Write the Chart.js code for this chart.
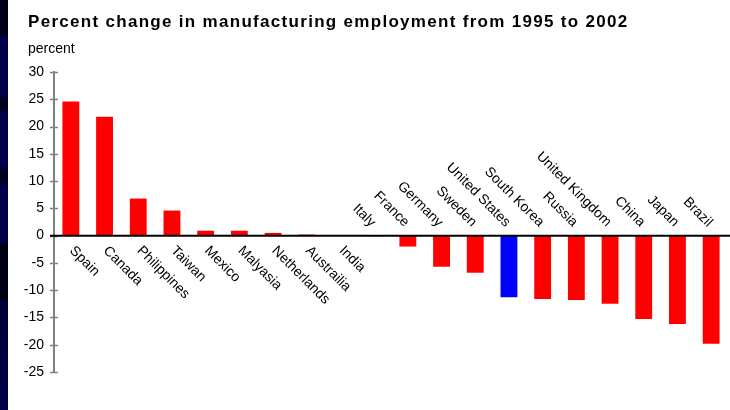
<!DOCTYPE html>
<html>
<head>
<meta charset="utf-8">
<script src="https://cdn.jsdelivr.net/npm/chart.js@4"></script>
<style>
  html, body { margin: 0; padding: 0; background: #fff; }
  #wrap { position: relative; width: 730px; height: 410px; overflow: hidden; }
  #strip {
    position: absolute; left: 0; top: 0; width: 8px; height: 410px;
    background: linear-gradient(to bottom,
      #000018 0px, #000018 35px, #000048 36px, #000048 96px, #000020 97px, #000020 110px,
      #000048 111px, #000048 168px, #000020 169px, #000020 183px, #000048 184px, #000048 243px,
      #000014 244px, #000014 300px, #00003a 301px, #000048 410px);
  }
  #title {
    position: absolute; left: 28px; top: 12px;
    font: bold 17px "Liberation Sans", Arial, sans-serif; letter-spacing: 1.3px; color: #000;
  }
  #unit {
    position: absolute; left: 28px; top: 40px;
    font: 14px "Liberation Sans", Arial, sans-serif; color: #000;
  }
  canvas { position: absolute; left: 0; top: 0; }
</style>
</head>
<body>
<div id="wrap">
  <canvas id="chart" width="730" height="410"></canvas>
  <div id="strip"></div>
  <div id="title">Percent change in manufacturing employment from 1995 to 2002</div>
  <div id="unit">percent</div>
</div>
<script>
// countries, in the order shown
const countries = ['Spain', 'Canada', 'Philippines', 'Taiwan', 'Mexico', 'Malyasia', 'Netherlands',
  'Austrailia', 'India', 'Italy', 'France', 'Germany', 'Sweden', 'United States', 'South Korea',
  'Russia', 'United Kingdom', 'China', 'Japan', 'Brazil'];
// percent change 1995-2002
const changes = [24.6, 21.8, 6.8, 4.6, 0.9, 0.9, 0.5, 0.2, 0, -0.1, -2.0, -5.7, -6.8, -11.3, -11.6,
  -11.8, -12.5, -15.3, -16.2, -19.8];
const yTicks = [30, 25, 20, 15, 10, 5, 0, -5, -10, -15, -20, -25];
const highlight = 'United States';

const font = '14px "Liberation Sans", Arial, sans-serif';

// zero line, tick marks and the rotated country names
const axisExtras = {
  id: 'axisExtras',
  afterDatasetsDraw(chart) {
    const ctx = chart.ctx;
    const x = chart.scales.x, y = chart.scales.y;
    const left = chart.chartArea.left;
    const zero = y.getPixelForValue(0);
    ctx.save();
    ctx.strokeStyle = '#808080';
    ctx.lineWidth = 1.5;
    yTicks.forEach(v => {
      const py = Math.round(y.getPixelForValue(v)) + 0.5;
      ctx.beginPath();
      ctx.moveTo(left - 4, py);
      ctx.lineTo(left + 4, py);
      ctx.stroke();
    });
    ctx.strokeStyle = '#000';
    ctx.lineWidth = 2;
    ctx.beginPath();
    ctx.moveTo(left - 4, zero);
    ctx.lineTo(chart.width, zero);
    ctx.stroke();

    ctx.fillStyle = '#000';
    ctx.font = font;
    ctx.textBaseline = 'middle';
    countries.forEach((c, i) => {
      const px = x.getPixelForValue(i);
      ctx.save();
      if (changes[i] >= 0) {
        ctx.translate(px + 1, zero + 13);
        ctx.textAlign = 'left';
      } else {
        ctx.translate(px - 1, zero - 11);
        ctx.textAlign = 'right';
      }
      ctx.rotate(Math.PI / 4);
      ctx.fillText(c, 0, 0);
      ctx.restore();
    });
    ctx.restore();
  }
};

new Chart(document.getElementById('chart'), {
  type: 'bar',
  data: {
    labels: countries,
    datasets: [{
      data: changes,
      backgroundColor: countries.map(c => c === highlight ? '#0000FF' : '#FF0000'),
      borderWidth: 0,
      barPercentage: 0.5,
      categoryPercentage: 1.0
    }]
  },
  options: {
    responsive: false,
    animation: false,
    layout: { padding: { top: 72, bottom: 38, left: 0, right: 2 } },
    plugins: { legend: { display: false }, tooltip: { enabled: false } },
    scales: {
      x: { display: false },
      y: {
        min: -25, max: 30,
        afterFit(scale) { scale.width = 54; },
        afterBuildTicks(scale) { scale.ticks = yTicks.map(v => ({ value: v })); },
        grid: { display: false, drawTicks: false },
        border: { display: true, color: '#808080', width: 2 },
        ticks: { color: '#000', font: { family: '"Liberation Sans", Arial, sans-serif', size: 14 }, padding: 10 }
      }
    }
  },
  plugins: [axisExtras]
});
</script>
</body>
</html>
